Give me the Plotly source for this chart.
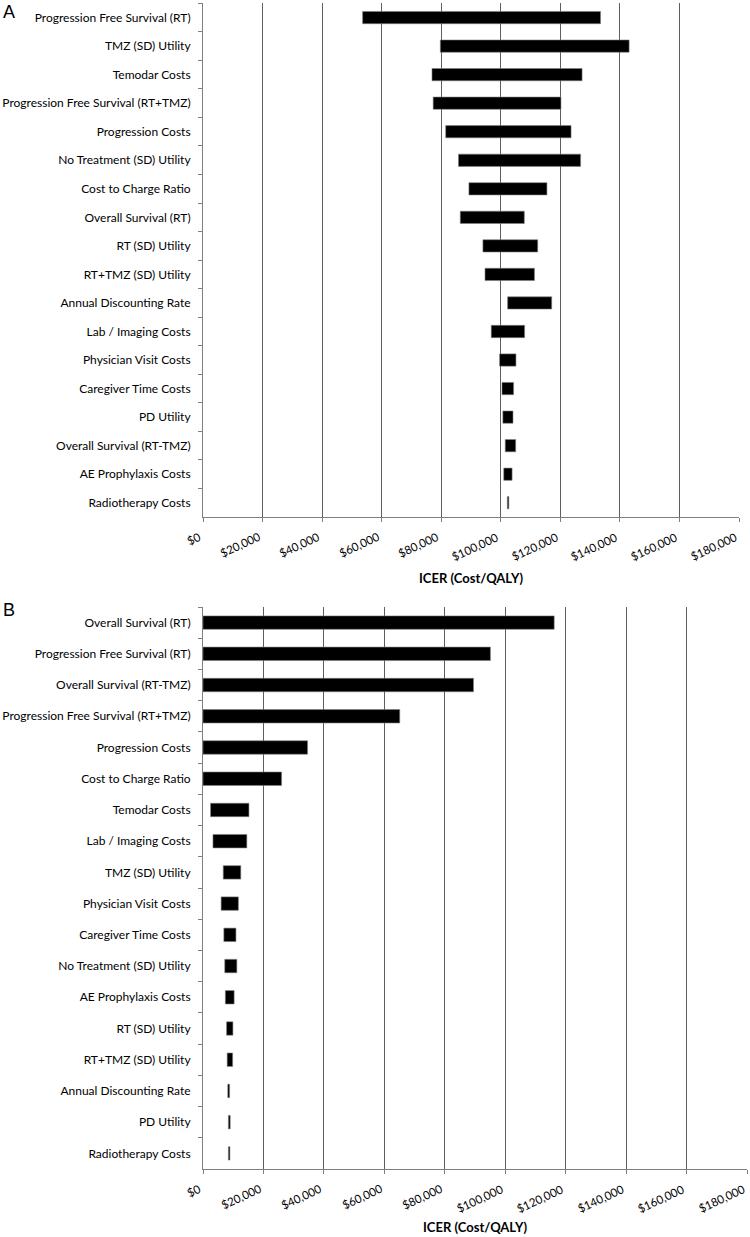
import plotly.graph_objects as go

# ---------------- data ----------------
cats_a = ["Progression Free Survival (RT)", "TMZ (SD) Utility", "Temodar Costs",
          "Progression Free Survival (RT+TMZ)", "Progression Costs", "No Treatment (SD) Utility",
          "Cost to Charge Ratio", "Overall Survival (RT)", "RT (SD) Utility",
          "RT+TMZ (SD) Utility", "Annual Discounting Rate", "Lab / Imaging Costs",
          "Physician Visit Costs", "Caregiver Time Costs", "PD Utility",
          "Overall Survival (RT-TMZ)", "AE Prophylaxis Costs", "Radiotherapy Costs"]
low_a = [53600, 79700, 76900, 77300, 81500, 85800, 89300, 86400, 94000, 94700,
         102300, 96800, 99600, 100400, 100700, 101500, 101000, 102200]
high_a = [133500, 143100, 127300, 120200, 123600, 126800, 115500, 107900, 112400, 111300,
          117100, 108000, 105100, 104300, 104100, 105000, 103800, 102700]

cats_b = ["Overall Survival (RT)", "Progression Free Survival (RT)", "Overall Survival (RT-TMZ)",
          "Progression Free Survival (RT+TMZ)", "Progression Costs", "Cost to Charge Ratio",
          "Temodar Costs", "Lab / Imaging Costs", "TMZ (SD) Utility", "Physician Visit Costs",
          "Caregiver Time Costs", "No Treatment (SD) Utility", "AE Prophylaxis Costs",
          "RT (SD) Utility", "RT+TMZ (SD) Utility", "Annual Discounting Rate",
          "PD Utility", "Radiotherapy Costs"]
low_b = [0, 0, 0, 0, 0, 0, 2500, 3300, 6700, 6000, 6900, 7200, 7400, 7800, 8000, 8200, 8400, 8400]
high_b = [116200, 95100, 89500, 65100, 34600, 26000, 15200, 14500, 12500, 11700, 10900,
          11200, 10300, 9900, 9800, 8800, 9000, 8900]

tick_vals = [0, 20000, 40000, 60000, 80000, 100000, 120000, 140000, 160000, 180000]
tick_text = ["$0", "$20,000", "$40,000", "$60,000", "$80,000", "$100,000",
             "$120,000", "$140,000", "$160,000", "$180,000"]
x_title = "ICER (Cost/QALY)"
panel_labels = ["A", "B"]

# ---------------- figure ----------------
W, H = 750, 1237
FONT = "Lato"
fig = go.Figure()

bar_style = dict(orientation="h", marker=dict(color="black", line=dict(color="#808080", width=0.6)),
                 width=0.43, showlegend=False, hoverinfo="skip")

fig.add_trace(go.Bar(y=cats_a, x=[h - l for l, h in zip(low_a, high_a)], base=low_a,
                     xaxis="x", yaxis="y", **bar_style))
fig.add_trace(go.Bar(y=cats_b, x=[h - l for l, h in zip(low_b, high_b)], base=low_b,
                     xaxis="x2", yaxis="y2", **bar_style))

def px_x(p):
    return p / W

def px_y(p):
    return 1 - p / H

xcommon = dict(range=[0, 180000], tickvals=tick_vals, showticklabels=False,
               automargin=False,
               showgrid=True, gridcolor="#5e5e5e", gridwidth=1, zeroline=False,
               showline=True, linecolor="#7f7f7f", linewidth=1, ticks="outside",
               tickcolor="#7f7f7f", ticklen=4)
ycommon = dict(type="category", autorange="reversed", showgrid=False, zeroline=False,
               automargin=False,
               showline=True, linecolor="#7f7f7f", linewidth=1, ticks="outside",
               tickson="boundaries", tickcolor="#7f7f7f", ticklen=4, ticklabelstandoff=9,
               tickfont=dict(family=FONT, size=12, color="black"))

AX_A_BOTTOM, AX_B_BOTTOM = 517, 1169

fig.update_layout(
    template="none",
    width=W, height=H, autosize=False,
    margin=dict(l=0, r=0, t=0, b=0, pad=0),
    paper_bgcolor="white", plot_bgcolor="white",
    bargap=0.57,
    xaxis=dict(domain=[px_x(203), px_x(739)], anchor="y", **xcommon),
    yaxis=dict(domain=[px_y(AX_A_BOTTOM), px_y(3.3)], anchor="x", categoryarray=cats_a, **ycommon),
    xaxis2=dict(domain=[px_x(203), px_x(747)], anchor="y2", **xcommon),
    yaxis2=dict(domain=[px_y(AX_B_BOTTOM), px_y(607)], anchor="x2", categoryarray=cats_b, **ycommon),
)

# angled x tick labels (Excel style: text ends at the tick)
for xref, ybase in (("x", AX_A_BOTTOM), ("x2", AX_B_BOTTOM)):
    for v, t in zip(tick_vals, tick_text):
        fig.add_annotation(text=t, xref=xref, yref="paper", x=v, y=px_y(ybase),
                           xanchor="right", yanchor="top", xshift=0, yshift=-13,
                           textangle=-25, showarrow=False, borderpad=0, borderwidth=0,
                           font=dict(family=FONT, size=11.5, color="black"))

annots = [
    dict(text="<b>" + x_title + "</b>", x=px_x(471), y=px_y(578)),
    dict(text="<b>" + x_title + "</b>", x=px_x(475), y=px_y(1227)),
]
for a in annots:
    fig.add_annotation(xref="paper", yref="paper", showarrow=False, xanchor="center",
                       yanchor="middle", font=dict(family=FONT, size=13, color="black"), **a)

for lab, yy in zip(panel_labels, [12, 610]):
    fig.add_annotation(text=lab, xref="paper", yref="paper", x=px_x(1), y=px_y(yy),
                       xanchor="left", yanchor="middle", showarrow=False,
                       font=dict(family="Liberation Sans", size=18, color="black"))

fig.write_html(
    "out.html",
    config={"displayModeBar": False, "staticPlot": True},
    post_script="document.body.style.margin='0';document.body.style.padding='0';"
                "document.documentElement.style.overflow='hidden';",
)
